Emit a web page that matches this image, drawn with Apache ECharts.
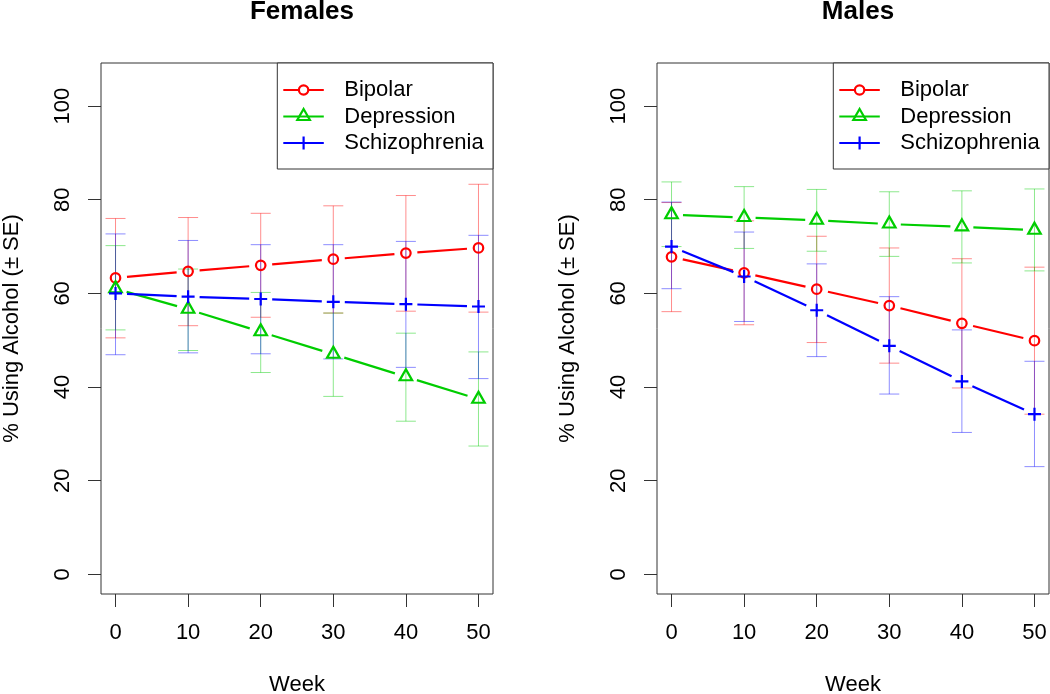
<!DOCTYPE html>
<html>
<head>
<meta charset="utf-8">
<script src="https://cdn.jsdelivr.net/npm/echarts@6/dist/echarts.min.js"></script>
<style>
html,body{margin:0;padding:0;background:#fff;}
#chart{width:1050px;height:694px;}
</style>
</head>
<body>
<div id="chart"></div>
<script>
// ---- data ----
const weeks = [0, 10, 20, 30, 40, 50];
const panelTitles = ['Females', 'Males'];
const seriesNames = ['Bipolar', 'Depression', 'Schizophrenia'];
const xTicks = [0, 10, 20, 30, 40, 50];
const yTicks = [0, 20, 40, 60, 80, 100];

// Females
const femBipolar      = [63.3, 64.7, 66.0, 67.3, 68.6, 69.7];
const femBipolarLo    = [50.5, 53.1, 54.9, 55.8, 56.2, 56.0];
const femBipolarHi    = [76.0, 76.2, 77.1, 78.7, 80.9, 83.3];
const femDepression   = [61.0, 56.6, 51.8, 47.0, 42.2, 37.4];
const femDepressionLo = [52.2, 47.8, 43.1, 38.0, 32.7, 27.4];
const femDepressionHi = [70.2, 65.2, 60.2, 55.8, 51.5, 47.5];
const femSchizo       = [60.0, 59.3, 58.8, 58.2, 57.7, 57.2];
const femSchizoLo     = [46.9, 47.3, 47.1, 46.0, 44.2, 41.8];
const femSchizoHi     = [72.7, 71.3, 70.4, 70.4, 71.1, 72.4];

// Males
const maleBipolar      = [67.8, 64.4, 60.9, 57.4, 53.6, 49.9];
const maleBipolarLo    = [56.1, 53.3, 49.5, 45.1, 39.8, 34.2];
const maleBipolarHi    = [79.4, 75.5, 72.2, 69.7, 67.4, 65.6];
const maleDepression   = [76.8, 76.2, 75.6, 74.8, 74.2, 73.5];
const maleDepressionLo = [70.0, 69.6, 69.0, 67.9, 66.5, 64.8];
const maleDepressionHi = [83.8, 82.8, 82.2, 81.7, 81.9, 82.3];
const maleSchizo       = [70.0, 63.6, 56.4, 48.8, 41.2, 34.2];
const maleSchizoLo     = [61.0, 54.0, 46.5, 38.5, 30.3, 23.0];
const maleSchizoHi     = [79.5, 73.1, 66.3, 59.3, 52.2, 45.5];

// ---- styles ----
const FONT = '"Liberation Sans", Arial, Helvetica, sans-serif';
const colors = ['#FF0000', '#00CD00', '#0000FF'];
const barColors = ['rgba(255,0,0,0.45)', 'rgba(0,205,0,0.45)', 'rgba(0,0,255,0.45)'];
const GRID_W = 392, GRID_TOP = 63, GRID_H = 531;
const gridLefts = [101, 657];

const panels = [
  { mean: [femBipolar, femDepression, femSchizo],
    lo: [femBipolarLo, femDepressionLo, femSchizoLo],
    hi: [femBipolarHi, femDepressionHi, femSchizoHi] },
  { mean: [maleBipolar, maleDepression, maleSchizo],
    lo: [maleBipolarLo, maleDepressionLo, maleSchizoLo],
    hi: [maleBipolarHi, maleDepressionHi, maleSchizoHi] }
];

const plusPath = 'path://M0,6.5L13,6.5M6.5,0L6.5,13';
const symbols = [
  { symbol: 'circle', size: 9.5, offset: [0, 0] },
  { symbol: 'triangle', size: [12.5, 11], offset: [0, -2] },
  { symbol: plusPath, size: 13, offset: [0, 0] }
];

function errRender(color) {
  return function (params, api) {
    const x = api.value(0), lo = api.value(1), hi = api.value(2);
    const pL = api.coord([x, lo]), pH = api.coord([x, hi]);
    const w = 10;
    const st = { stroke: color, lineWidth: 1 };
    return { type: 'group', children: [
      { type: 'line', shape: { x1: pL[0], y1: pL[1], x2: pH[0], y2: pH[1] }, style: st },
      { type: 'line', shape: { x1: pL[0] - w, y1: pL[1], x2: pL[0] + w, y2: pL[1] }, style: st },
      { type: 'line', shape: { x1: pH[0] - w, y1: pH[1], x2: pH[0] + w, y2: pH[1] }, style: st }
    ]};
  };
}

function segRender(color) {
  return function (params, api) {
    const a = api.coord([api.value(0), api.value(1)]);
    const b = api.coord([api.value(2), api.value(3)]);
    const dx = b[0] - a[0], dy = b[1] - a[1];
    const len = Math.sqrt(dx * dx + dy * dy);
    const gap = 11.5;
    if (len <= 2 * gap) return null;
    const ux = dx / len, uy = dy / len;
    return { type: 'line', shape: {
      x1: a[0] + ux * gap, y1: a[1] + uy * gap,
      x2: b[0] - ux * gap, y2: b[1] - uy * gap },
      style: { stroke: color, lineWidth: 2.2 } };
  };
}

const grids = [], xAxes = [], yAxes = [], series = [], titles = [], graphics = [];

panels.forEach(function (p, k) {
  grids.push({ left: gridLefts[k], top: GRID_TOP, width: GRID_W, height: GRID_H,
    containLabel: false, outerBoundsMode: 'none',
    show: true, borderColor: '#333', borderWidth: 1, backgroundColor: 'transparent' });
  xAxes.push({ gridIndex: k, type: 'value', min: -2, max: 52, position: 'bottom',
    name: 'Week', nameLocation: 'middle', nameGap: 80, nameMoveOverlap: false,
    nameTextStyle: { fontFamily: FONT, fontSize: 22, color: '#000' },
    axisLine: { show: false, onZero: false },
    axisTick: { show: true, length: 13, inside: false, customValues: xTicks, lineStyle: { color: '#333' } },
    axisLabel: { show: true, customValues: xTicks, margin: 28, fontFamily: FONT, fontSize: 22, color: '#000' },
    splitLine: { show: false } });
  yAxes.push({ gridIndex: k, type: 'value', min: -4.2, max: 109.2, position: 'left',
    name: '% Using Alcohol (\u00B1 SE)', nameLocation: 'middle', nameGap: 78, nameRotate: 90, nameMoveOverlap: false,
    nameTextStyle: { fontFamily: FONT, fontSize: 22, color: '#000' },
    axisLine: { show: false, onZero: false },
    axisTick: { show: true, length: 13, inside: false, customValues: yTicks, lineStyle: { color: '#333' } },
    axisLabel: { show: true, customValues: yTicks, rotate: 90, margin: 27, fontFamily: FONT, fontSize: 22, color: '#000' },
    splitLine: { show: false } });
  titles.push({ text: panelTitles[k], left: gridLefts[k] + GRID_W / 2, top: -6, textAlign: 'center',
    textStyle: { fontFamily: FONT, fontSize: 26, fontWeight: 'bold', color: '#000' } });

  // error bars first
  for (let s = 0; s < 3; s++) {
    series.push({ type: 'custom', name: seriesNames[s] + ' SE', xAxisIndex: k, yAxisIndex: k,
      silent: true, z: 1,
      renderItem: errRender(barColors[s]),
      encode: { x: 0, y: [1, 2] },
      data: weeks.map(function (w, i) { return [w, p.lo[s][i], p.hi[s][i]]; }) });
  }
  for (let s = 0; s < 3; s++) {
    const segs = [];
    for (let i = 0; i < weeks.length - 1; i++) {
      segs.push([weeks[i], p.mean[s][i], weeks[i + 1], p.mean[s][i + 1]]);
    }
    series.push({ type: 'custom', name: seriesNames[s] + ' line', xAxisIndex: k, yAxisIndex: k,
      silent: true, z: 2,
      renderItem: segRender(colors[s]),
      encode: { x: [0, 2], y: [1, 3] },
      data: segs });
    series.push({ type: 'scatter', name: seriesNames[s], xAxisIndex: k, yAxisIndex: k,
      silent: true, z: 3,
      symbol: symbols[s].symbol, symbolSize: symbols[s].size, symbolOffset: symbols[s].offset,
      itemStyle: { color: 'rgba(0,0,0,0)', borderColor: colors[s], borderWidth: 2.2, opacity: 1 },
      data: weeks.map(function (w, i) { return [w, p.mean[s][i]]; }) });
  }

  // legend box (R style)
  const bx = gridLefts[k] + GRID_W - 215.7, by = GRID_TOP, bw = 215.7, bh = 106;
  graphics.push({ type: 'rect', shape: { x: bx, y: by, width: bw, height: bh },
    style: { fill: '#fff', stroke: '#333', lineWidth: 1 }, z: 100 });
  const rowY = [90, 116.5, 143];
  for (let s = 0; s < 3; s++) {
    const cy = rowY[s], mx = bx + 26.3;
    graphics.push({ type: 'line', shape: { x1: bx + 6, y1: cy, x2: bx + 46.5, y2: cy },
      style: { stroke: colors[s], lineWidth: 2.2 }, z: 101 });
    if (s === 0) {
      graphics.push({ type: 'circle', shape: { cx: mx, cy: cy, r: 4.7 },
        style: { fill: '#fff', stroke: colors[s], lineWidth: 2.2 }, z: 102 });
    } else if (s === 1) {
      graphics.push({ type: 'polygon', shape: { points: [[mx, cy - 7.5], [mx + 6.3, cy + 3.5], [mx - 6.3, cy + 3.5]] },
        style: { fill: 'none', stroke: colors[s], lineWidth: 2.2 }, z: 102 });
    } else {
      graphics.push({ type: 'line', shape: { x1: mx, y1: cy - 6.5, x2: mx, y2: cy + 6.5 },
        style: { stroke: colors[s], lineWidth: 2.2 }, z: 102 });
    }
    graphics.push({ type: 'text', x: bx + 67, y: cy,
      style: { text: seriesNames[s], font: '22px ' + FONT, fill: '#000', textAlign: 'left', textVerticalAlign: 'middle' }, z: 102 });
  }
});

const chart = echarts.init(document.getElementById('chart'), null, { renderer: 'canvas' });
chart.setOption({
  animation: false,
  backgroundColor: '#fff',
  title: titles,
  grid: grids,
  xAxis: xAxes,
  yAxis: yAxes,
  series: series,
  graphic: graphics,
  tooltip: { show: false }
});
</script>
</body>
</html>
